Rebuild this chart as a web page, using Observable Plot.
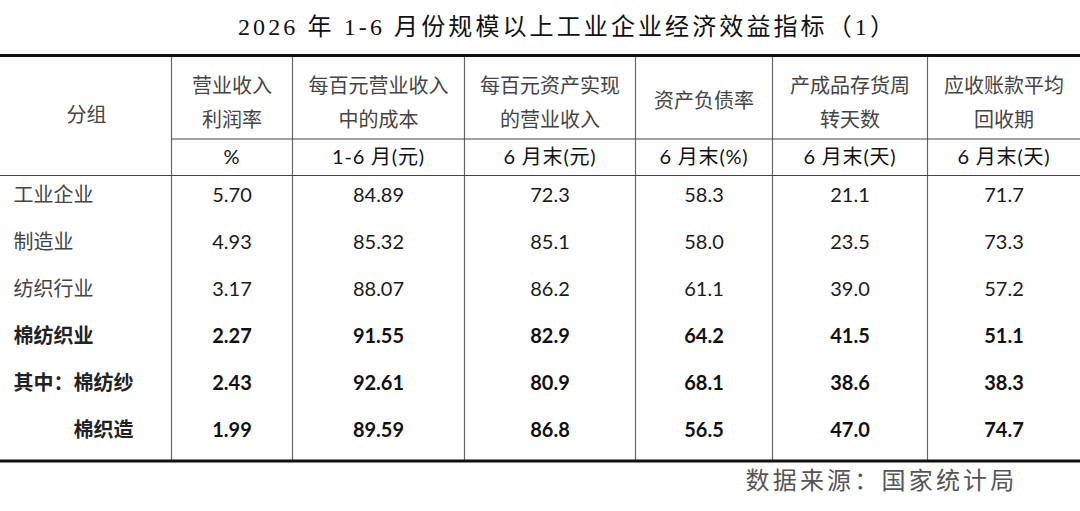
<!DOCTYPE html>
<html>
<head>
<meta charset="utf-8">
<script src="https://cdn.jsdelivr.net/npm/d3@7"></script>
<script src="https://cdn.jsdelivr.net/npm/@observablehq/plot@0.6"></script>
<style>
  html, body { margin: 0; padding: 0; background: #fff; }
  #chart svg { display: block; }
</style>
</head>
<body>
<div id="chart"></div>
<script>
// ---- data ----
const title = "2026 年 1-6 月份规模以上工业企业经济效益指标（1）";
const source = "数据来源：国家统计局";
const groupHeader = "分组";
const groups = ["工业企业", "制造业", "纺织行业", "棉纺织业", "其中：棉纺纱", "棉织造"];
const groupIndent = [0, 0, 0, 0, 0, 1];
const boldRows = [false, false, false, true, true, true];
const headers = ["营业收入\n利润率", "每百元营业收入\n中的成本", "每百元资产实现\n的营业收入", "资产负债率", "产成品存货周\n转天数", "应收账款平均\n回收期"];
const units = ["%", "1-6 月(元)", "6 月末(元)", "6 月末(%)", "6 月末(天)", "6 月末(天)"];
const profitMargin = [5.70, 4.93, 3.17, 2.27, 2.43, 1.99];
const costPer100Revenue = [84.89, 85.32, 88.07, 91.55, 92.61, 89.59];
const revenuePer100Assets = [72.3, 85.1, 86.2, 82.9, 80.9, 86.8];
const debtRatio = [58.3, 58.0, 61.1, 64.2, 68.1, 56.5];
const inventoryDays = [21.1, 23.5, 39.0, 41.5, 38.6, 47.0];
const receivableDays = [71.7, 73.3, 57.2, 51.1, 38.3, 74.7];
const decimals = [2, 2, 1, 1, 1, 1];

// ---- layout ----
const W = 1080, H = 511;
const colEdges = [0, 171, 292, 464, 635, 772, 927, 1080];
const tableTop = 55, headSplit = 138.5, headBottom = 175, tableBottom = 460.5;
const rowY0 = 195, rowStep = 47;
const colCenter = j => (colEdges[j + 1] + colEdges[j + 2]) / 2;

const series = [profitMargin, costPer100Revenue, revenuePer100Assets, debtRatio, inventoryDays, receivableDays];

const cells = [];
groups.forEach((g, i) => {
  series.forEach((s, j) => {
    cells.push({x: colCenter(j), y: rowY0 + i * rowStep, text: d3.format(`.${decimals[j]}f`)(s[i]), bold: boldRows[i]});
  });
});
const labels = groups.map((g, i) => ({x: 13 + groupIndent[i] * 60, y: rowY0 + i * rowStep, text: g, bold: boldRows[i]}));
const headerCells = headers.map((h, j) => ({x: colCenter(j), y: h.includes("\n") ? 99 : 97, text: h}));
const unitCells = units.map((u, j) => ({x: colCenter(j), y: 157, text: u}));

const thick = [tableTop, tableBottom].map(y => ({y, x1: 0, x2: W}));
const thin = [{y: headSplit, x1: colEdges[1], x2: W}, {y: headBottom, x1: 0, x2: W}];
const verticals = colEdges.slice(1, -1).map(x => ({x, y1: tableTop, y2: tableBottom}));

const cjk = "'Noto Sans CJK SC', sans-serif";
const num = "Lato, 'Noto Sans CJK SC', sans-serif";

const chart = Plot.plot({
  width: W,
  height: H,
  margin: 0,
  x: {type: "linear", domain: [0, W], range: [0, W], axis: null},
  y: {type: "linear", domain: [0, H], range: [0, H], axis: null},
  style: {background: "#fff"},
  marks: [
    Plot.ruleX(verticals, {x: "x", y1: "y1", y2: "y2", stroke: "#666", strokeWidth: 1.2}),
    Plot.ruleY(thin, {y: "y", x1: "x1", x2: "x2", stroke: "#444", strokeWidth: 1.2}),
    Plot.ruleY(thick, {y: "y", x1: "x1", x2: "x2", stroke: "#111", strokeWidth: 2.8}),
    Plot.text([title], {x: () => 567, y: () => 27, text: d => d, fontSize: 24, fontFamily: "'Liberation Serif', 'Noto Sans CJK SC', serif", fill: "#111"}),
    Plot.text([groupHeader], {x: () => 86, y: () => 115, text: d => d, fontSize: 20, fontFamily: cjk, fill: "#444"}),
    Plot.text(headerCells, {x: "x", y: "y", text: "text", fontSize: 20, fontFamily: cjk, fill: "#444", lineHeight: 1.7}),
    Plot.text(unitCells, {x: "x", y: "y", text: "text", fontSize: 20, fontFamily: num, fill: "#111"}),
    Plot.text(labels.filter(d => !d.bold), {x: "x", y: "y", text: "text", textAnchor: "start", fontSize: 20, fontFamily: cjk, fill: "#444"}),
    Plot.text(labels.filter(d => d.bold), {x: "x", y: "y", text: "text", textAnchor: "start", fontSize: 20, fontFamily: cjk, fontWeight: "bold", fill: "#222"}),
    Plot.text(cells.filter(d => !d.bold), {x: "x", y: "y", text: "text", fontSize: 20, fontFamily: num, fill: "#1a1a1a"}),
    Plot.text(cells.filter(d => d.bold), {x: "x", y: "y", text: "text", fontSize: 20, fontFamily: num, fontWeight: "bold", fill: "#111"}),
    Plot.text([source], {x: () => 745, y: () => 481, text: d => d, textAnchor: "start", fontSize: 24, fontFamily: cjk, fill: "#555"})
  ]
});
const spacing = new Map([[title, 3.1], [source, 3.2]]);
d3.select(chart).selectAll("text").each(function () {
  let ls = spacing.get(this.textContent);
  if (ls === undefined && units.includes(this.textContent)) ls = 0.8;
  if (ls !== undefined) {
    this.setAttribute("letter-spacing", ls);
    this.style.letterSpacing = ls + "px";
  }
});
document.getElementById("chart").appendChild(chart);
</script>
</body>
</html>
